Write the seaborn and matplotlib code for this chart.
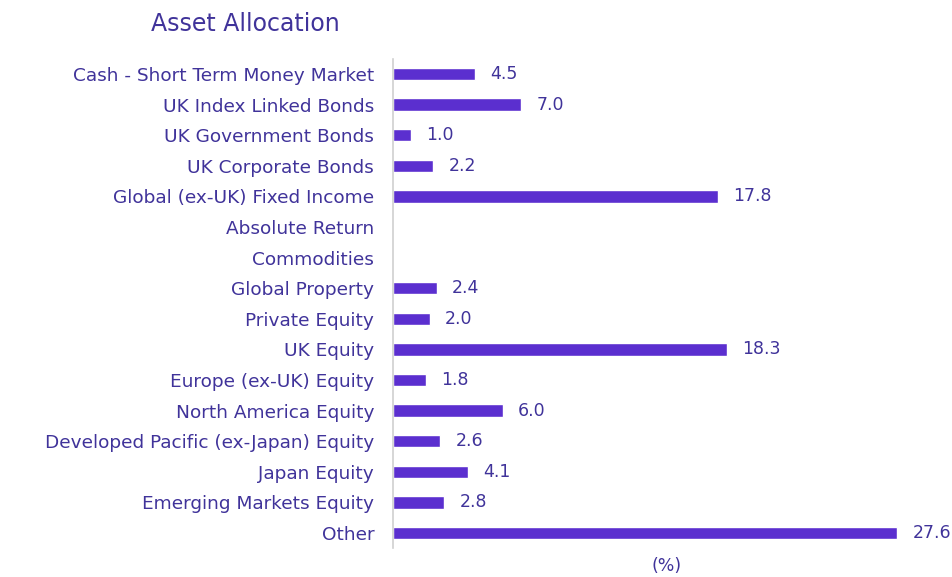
import numpy as np
import pandas as pd
import matplotlib
matplotlib.use("Agg")
import matplotlib.pyplot as plt
import seaborn as sns

categories = [
    "Cash - Short Term Money Market",
    "UK Index Linked Bonds",
    "UK Government Bonds",
    "UK Corporate Bonds",
    "Global (ex-UK) Fixed Income",
    "Absolute Return",
    "Commodities",
    "Global Property",
    "Private Equity",
    "UK Equity",
    "Europe (ex-UK) Equity",
    "North America Equity",
    "Developed Pacific (ex-Japan) Equity",
    "Japan Equity",
    "Emerging Markets Equity",
    "Other",
]
values = [4.5, 7.0, 1.0, 2.2, 17.8, np.nan, np.nan, 2.4, 2.0, 18.3, 1.8, 6.0, 2.6, 4.1, 2.8, 27.6]

title = "Asset Allocation"
xlabel = "(%)"

bar_color = "#5B2FCF"
text_color = "#40339A"

sns.set_theme(style="white")
plt.rcParams["font.family"] = ["DejaVu Sans"]

df = pd.DataFrame({"category": categories, "value": values})

fig = plt.figure(figsize=(9.52, 5.77), dpi=100)
ax = fig.add_axes([0.4128, 0.0497, 0.5757, 0.8486])

sns.barplot(data=df, y="category", x="value", orient="h", color=bar_color,
            width=0.4, saturation=1, ax=ax, order=categories)

ax.set_xlim(0, 30)
ax.set_ylim(len(categories) - 0.5, -0.5)
ax.set_xticks([])
ax.set_ylabel("")
ax.set_xlabel("")
for s in ["top", "right", "bottom"]:
    ax.spines[s].set_visible(False)
ax.spines["left"].set_color("#D0D0D0")
ax.spines["left"].set_linewidth(1.2)
ax.tick_params(axis="y", length=0, pad=13.5, labelsize=13.3, labelcolor=text_color)

for i, v in enumerate(values):
    if not np.isnan(v):
        ax.annotate(f"{v:.1f}", xy=(v, i), xytext=(11, 0), textcoords="offset points",
                    va="center", ha="left", fontsize=12.5, color=text_color,
                    annotation_clip=False)

fig.text(245 / 952, 1 - 24 / 577, title, ha="center", va="center", fontsize=17, color=text_color)
fig.text(667 / 952, 1 - 566 / 577, xlabel, ha="center", va="center", fontsize=12.5, color=text_color)

fig.savefig("out.png", dpi=100)
